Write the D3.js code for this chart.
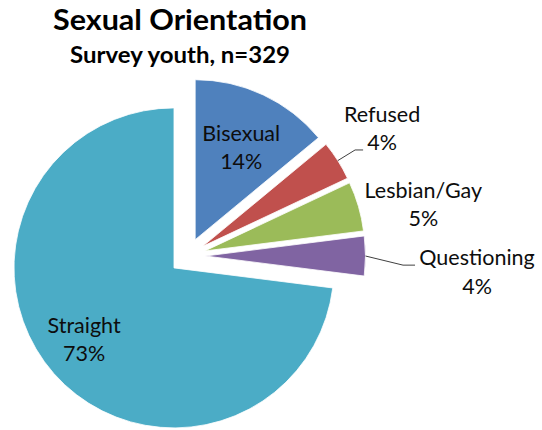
<!DOCTYPE html>
<html>
<head>
<meta charset="utf-8">
<script src="https://cdn.jsdelivr.net/npm/d3@7"></script>
<style>
  html, body { margin: 0; padding: 0; background: #fff; }
  svg { display: block; }
  text { font-family: Lato, "Open Sans", sans-serif; }
</style>
</head>
<body>
<svg id="chart" width="542" height="430"></svg>
<script>
// ---- data ----
const categories = ["Bisexual", "Refused", "Lesbian/Gay", "Questioning", "Straight"];
const values = [14, 4, 5, 4, 73];
const colors = ["#4F81BD", "#C0504D", "#9BBB59", "#8064A2", "#4BACC6"];
const title = "Sexual Orientation";
const subtitle = "Survey youth, n=329";

// ---- layout (styling) ----
const W = 542, H = 430;
const cx = 187.5, cy = 256, R = 160, explode = 18;
// label placement: polar offset from exploded slice centre (angle delta in deg, radius factor)
const labelCfg = {
  "Bisexual":    { da: 1.4,  rf: 0.643, leader: null },
  "Refused":     { da: -0.8, rf: 1.34,  leader: { dx: -19, dy: 21, elbow: 8 } },
  "Lesbian/Gay": { da: 4.3,  rf: 1.396, leader: null },
  "Questioning": { da: 3.4,  rf: 1.70,  leader: { dx: -62, dy: -7, elbow: 12 } },
  "Straight":    { da: 2.7,  rf: 0.72,  leader: null }
};

const svg = d3.select("#chart");

const pie = d3.pie().sort(null).value(d => d.value);
const data = categories.map((c, i) => ({ name: c, value: values[i], color: colors[i] }));
const arcs = pie(data);
const arc = d3.arc().innerRadius(0).outerRadius(R);

const g = svg.append("g").attr("transform", `translate(${cx},${cy})`);

function centreOf(a) {
  const mid = (a.startAngle + a.endAngle) / 2;
  return [explode * Math.sin(mid), -explode * Math.cos(mid), mid];
}

g.selectAll("path.slice")
  .data(arcs)
  .join("path")
  .attr("class", "slice")
  .attr("d", arc)
  .attr("fill", d => d.data.color)
  .attr("stroke", "#fff")
  .attr("stroke-width", 0.8)
  .attr("transform", d => {
    const [ox, oy] = centreOf(d);
    return `translate(${ox},${oy})`;
  });

// labels
arcs.forEach(a => {
  const cfg = labelCfg[a.data.name];
  const [ox, oy, mid] = centreOf(a);
  const ang = mid + cfg.da * Math.PI / 180;
  const lx = ox + cfg.rf * R * Math.sin(ang);
  const ly = oy - cfg.rf * R * Math.cos(ang);

  if (cfg.leader) {
    const sx = ox + R * Math.sin(mid), sy = oy - R * Math.cos(mid);
    const ex = lx + cfg.leader.dx, ey = ly + cfg.leader.dy;
    g.append("polyline")
      .attr("points", [[sx, sy], [ex - cfg.leader.elbow, ey], [ex, ey]].map(p => p.join(",")).join(" "))
      .attr("fill", "none")
      .attr("stroke", "#404040")
      .attr("stroke-width", 1);
  }

  const t = g.append("text")
    .attr("text-anchor", "middle")
    .attr("font-size", 21.5)
    .attr("fill", "#0d0d0d");
  t.append("tspan").attr("x", lx).attr("y", ly - 7).text(a.data.name);
  t.append("tspan").attr("x", lx).attr("y", ly + 21.5).text(d3.format(".0f")(a.data.value) + "%");
});

// titles
svg.append("text")
  .attr("x", 180).attr("y", 29.5)
  .attr("text-anchor", "middle")
  .attr("font-size", 29).attr("font-weight", "bold").attr("fill", "#000")
  .attr("textLength", 254).attr("lengthAdjust", "spacingAndGlyphs")
  .text(title);
svg.append("text")
  .attr("x", 180).attr("y", 62.5)
  .attr("text-anchor", "middle")
  .attr("font-size", 22).attr("font-weight", "bold").attr("fill", "#000")
  .attr("textLength", 220).attr("lengthAdjust", "spacingAndGlyphs")
  .text(subtitle);
</script>
</body>
</html>
